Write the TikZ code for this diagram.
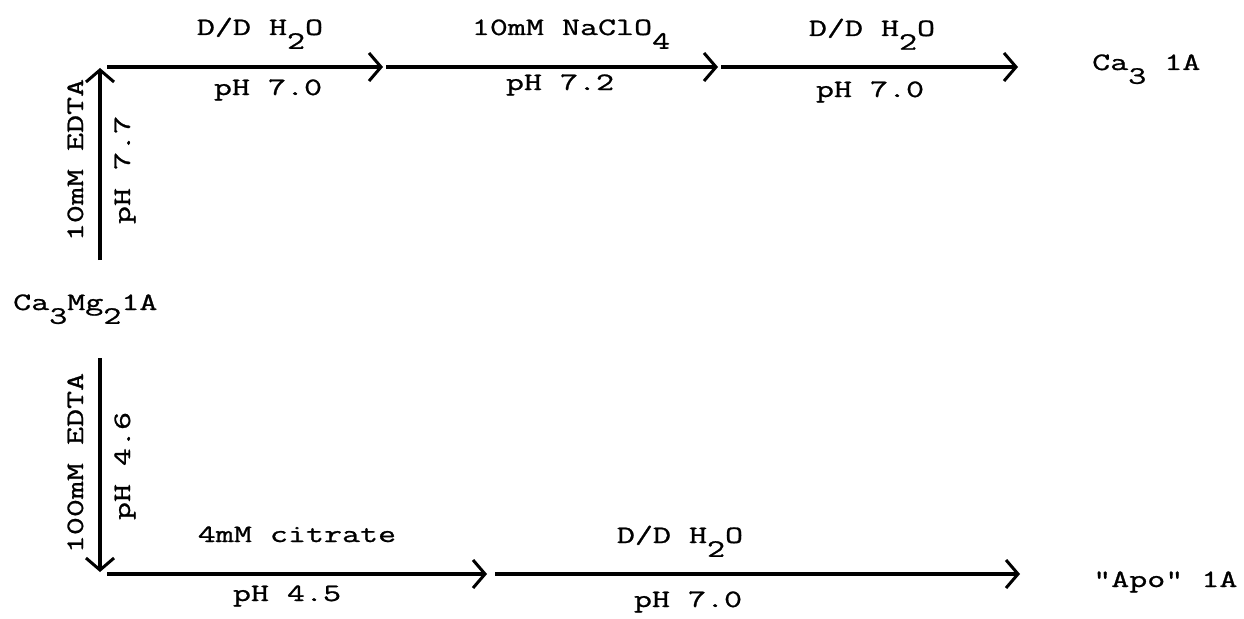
\documentclass[tikz,border=0pt]{standalone}
\usepackage{fontspec}
\newfontfamily\tw[FakeStretch=1.4,FakeBold=1.0]{Latin Modern Mono}
\usetikzlibrary{arrows.meta}
\newcommand\dn[1]{\raisebox{-0.55em}{#1}}
\tikzset{
  flow/.style={line width=3.3pt,-{Straight Barb[length=12pt,width=28pt,line width=3pt]}},
  lbl/.style={font=\fontsize{25}{29}\tw, inner sep=0pt, anchor=base},
  vlbl/.style={lbl, rotate=90},
  species/.style={font=\fontsize{25}{29}\tw, inner sep=0pt, anchor=base west}
}
\begin{document}
\begin{tikzpicture}[x=1pt,y=-1pt]
\useasboundingbox[fill=white] (0,0) rectangle (1244,618);
% species
\node[species] (start) at (13,310) {Ca\dn{3}Mg\dn{2}1A};
\node[species] (ca3) at (1092,70) {Ca\dn{3} 1A};
\node[species] (apo) at (1093,587) {"Apo" 1A};
% junction points
\coordinate (up0) at (100,260);
\coordinate (c1) at (100,68);
\coordinate (h1) at (107,67);
\coordinate (m1) at (383,67);
\coordinate (m1b) at (386,67);
\coordinate (m2) at (718,67);
\coordinate (m2b) at (721,67);
\coordinate (e1) at (1018,67);
\coordinate (dn0) at (100,358);
\coordinate (c2) at (100,572);
\coordinate (h2) at (107,574);
\coordinate (b1) at (487,574);
\coordinate (b1b) at (495,574);
\coordinate (e2) at (1020,574);
% arrows
\draw[flow] (up0) -- (c1);
\draw[flow] (h1) -- (m1);
\draw[flow] (m1b) -- (m2);
\draw[flow] (m2b) -- (e1);
\draw[flow] (dn0) -- (c2);
\draw[flow] (h2) -- (b1);
\draw[flow] (b1b) -- (e2);
% labels top row
\node[lbl] (l1a) at (260,35) {D/D H\dn{2}O};
\node[lbl] (l1b) at (268,95) {pH 7.0};
\node[lbl] (l2a) at (571,35) {10mM NaClO\dn{4}};
\node[lbl] (l2b) at (560,90) {pH 7.2};
\node[lbl] (l3a) at (872,36) {D/D H\dn{2}O};
\node[lbl] (l3b) at (870,97) {pH 7.0};
% vertical labels
\node[vlbl] (v1a) at (83,160) {10mM EDTA};
\node[vlbl] (v1b) at (130,170) {pH 7.7};
\node[vlbl] (v2a) at (83,463) {100mM EDTA};
\node[vlbl] (v2b) at (130,466) {pH 4.6};
% labels bottom row
\node[lbl] (l4a) at (297,542) {4mM citrate};
\node[lbl] (l4b) at (287,601) {pH 4.5};
\node[lbl] (l5a) at (680,543) {D/D H\dn{2}O};
\node[lbl] (l5b) at (688,607) {pH 7.0};
\end{tikzpicture}
\end{document}
